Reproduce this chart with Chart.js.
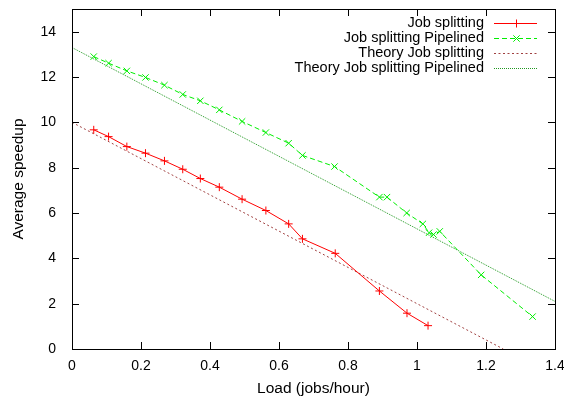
<!DOCTYPE html>
<html>
<head>
<meta charset="utf-8">
<script src="https://cdn.jsdelivr.net/npm/chart.js@4.4.0/dist/chart.umd.min.js"></script>
<style>
html,body{margin:0;padding:0;background:#fff;}
#wrap{width:564px;height:399px;position:relative;}
</style>
</head>
<body>
<div id="wrap"><canvas id="c" width="564" height="399"></canvas></div>
<script>
const seriesLabels = ["Job splitting", "Job splitting Pipelined", "Theory Job splitting", "Theory Job splitting Pipelined"];
const jsLoad = [0.063, 0.106, 0.159, 0.213, 0.268, 0.321, 0.372, 0.427, 0.493, 0.562, 0.628, 0.668, 0.763, 0.891, 0.971, 1.032];
const jsSpeedup = [9.67, 9.37, 8.93, 8.64, 8.30, 7.93, 7.52, 7.14, 6.61, 6.11, 5.52, 4.86, 4.22, 2.56, 1.58, 1.03];
const jspLoad = [0.063, 0.106, 0.159, 0.213, 0.268, 0.321, 0.372, 0.427, 0.493, 0.562, 0.628, 0.668, 0.761, 0.891, 0.913, 0.970, 1.017, 1.035, 1.048, 1.066, 1.186, 1.335];
const jspSpeedup = [12.90, 12.61, 12.27, 11.98, 11.64, 11.23, 10.95, 10.55, 10.04, 9.55, 9.08, 8.54, 8.05, 6.70, 6.70, 6.00, 5.52, 5.13, 5.05, 5.19, 3.27, 1.43];
const theoryLoad = [0, 1.25];
const theorySpeedup = [10, 0];
const theoryPLoad = [0, 1.4];
const theoryPSpeedup = [13.3, 2.1];
const xTicks = [0, 0.2, 0.4, 0.6, 0.8, 1, 1.2, 1.4];
const yTicks = [0, 2, 4, 6, 8, 10, 12, 14];

const seriesColors = ['#ff0000', '#00ee00', '#a04040', '#229922'];
const seriesDash = [[], [5, 3], [2, 2.5], [1, 1]];
const seriesPoint = ['cross', 'crossRot', false, false];
const seriesRadius = [4, 4.5, 0, 0];

const pts = (xs, ys) => xs.map((x, i) => ({x: x, y: ys[i]}));
const FONT = "'Liberation Sans', Arial, Helvetica, sans-serif";

const gnuFrame = {
  id: 'gnuFrame',
  afterDraw(chart) {
    const ctx = chart.ctx, a = chart.chartArea;
    const xs = chart.scales.x, ys = chart.scales.y;
    const L = 7;
    ctx.save();
    ctx.strokeStyle = '#000';
    ctx.lineWidth = 1;
    ctx.setLineDash([]);
    ctx.beginPath();
    xTicks.forEach(v => {
      const px = Math.round(xs.getPixelForValue(v)) + 0.5;
      ctx.moveTo(px, a.bottom); ctx.lineTo(px, a.bottom - L);
      ctx.moveTo(px, a.top); ctx.lineTo(px, a.top + L);
    });
    yTicks.forEach(v => {
      const py = Math.round(ys.getPixelForValue(v)) + 0.5;
      ctx.moveTo(a.left, py); ctx.lineTo(a.left + L, py);
      ctx.moveTo(a.right, py); ctx.lineTo(a.right - L, py);
    });
    ctx.stroke();
    ctx.strokeRect(Math.round(a.left) + 0.5, Math.round(a.top) + 0.5, Math.round(a.right - a.left), Math.round(a.bottom - a.top));
    ctx.restore();

    // legend, gnuplot style (text right-aligned, sample on the right)
    const textRight = 484, x0 = 494, x1 = 537;
    seriesLabels.forEach((label, i) => {
      const y = 23 + i * 15;
      const col = seriesColors[i];
      ctx.save();
      ctx.font = '14.5px ' + FONT;
      ctx.textAlign = 'right';
      ctx.textBaseline = 'middle';
      ctx.fillStyle = '#000';
      ctx.fillText(label, textRight, y);
      ctx.restore();

      ctx.save();
      ctx.strokeStyle = col;
      ctx.lineWidth = 1;
      ctx.setLineDash(seriesDash[i]);
      ctx.beginPath();
      ctx.moveTo(x0, y + 0.5);
      ctx.lineTo(x1, y + 0.5);
      ctx.stroke();
      ctx.restore();

      if (seriesPoint[i]) {
        const cx = Math.round((x0 + x1) / 2) + 0.5, cy = y + 0.5, r = seriesRadius[i];
        const d = seriesPoint[i] === 'crossRot' ? r * Math.SQRT1_2 : r;
        ctx.save();
        ctx.strokeStyle = col;
        ctx.lineWidth = 1;
        ctx.setLineDash([]);
        ctx.beginPath();
        if (seriesPoint[i] === 'cross') {
          ctx.moveTo(cx, cy - r); ctx.lineTo(cx, cy + r);
          ctx.moveTo(cx - r, cy); ctx.lineTo(cx + r, cy);
        } else {
          ctx.moveTo(cx - d, cy - d); ctx.lineTo(cx + d, cy + d);
          ctx.moveTo(cx - d, cy + d); ctx.lineTo(cx + d, cy - d);
        }
        ctx.stroke();
        ctx.restore();
      }
    });
  }
};

const datasetSeries = [pts(jsLoad, jsSpeedup), pts(jspLoad, jspSpeedup), pts(theoryLoad, theorySpeedup), pts(theoryPLoad, theoryPSpeedup)];

new Chart(document.getElementById('c'), {
  type: 'scatter',
  data: {
    datasets: datasetSeries.map((d, i) => ({
      label: seriesLabels[i],
      data: d,
      showLine: true,
      borderColor: seriesColors[i],
      backgroundColor: seriesColors[i],
      borderWidth: 1,
      borderDash: seriesDash[i],
      pointStyle: seriesPoint[i] || 'circle',
      pointRadius: seriesRadius[i],
      pointBorderWidth: 1
    }))
  },
  options: {
    responsive: false,
    animation: false,
    layout: {padding: {top: 9, right: 9, left: 0, bottom: 0}},
    plugins: {legend: {display: false}, tooltip: {enabled: false}},
    scales: {
      x: {
        type: 'linear', min: 0, max: 1.4,
        afterBuildTicks: s => { s.ticks = xTicks.map(v => ({value: v})); },
        afterFit: s => { s.height = 50; s.paddingLeft = 0; s.paddingRight = 0; },
        grid: {display: false, drawTicks: false},
        border: {display: false},
        ticks: {padding: 9, maxRotation: 0, color: '#000', font: {family: FONT, size: 14}, callback: v => String(v)},
        title: {display: true, text: 'Load (jobs/hour)', color: '#000', font: {family: FONT, size: 15.5}, padding: {top: 0, bottom: 1}}
      },
      y: {
        type: 'linear', min: 0, max: 15,
        afterBuildTicks: s => { s.ticks = yTicks.map(v => ({value: v})); },
        afterFit: s => { s.width = 72; s.paddingTop = 0; s.paddingBottom = 0; },
        grid: {display: false, drawTicks: false},
        border: {display: false},
        ticks: {padding: 16, color: '#000', font: {family: FONT, size: 14}, callback: v => String(v)},
        title: {display: true, text: 'Average speedup', color: '#000', font: {family: FONT, size: 15.5}, padding: {top: 9, bottom: 0}}
      }
    }
  },
  plugins: [gnuFrame]
});
</script>
</body>
</html>
